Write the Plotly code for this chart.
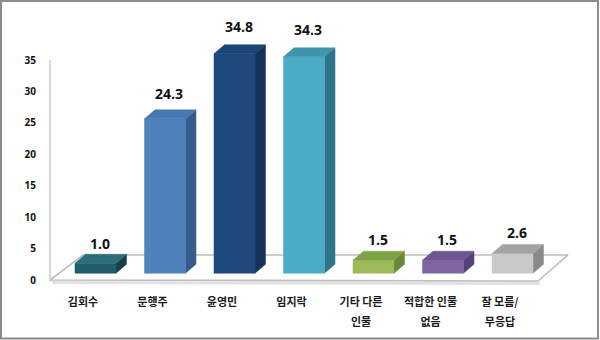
import plotly.graph_objects as go

categories = ["김회수", "문행주", "윤영민", "임지락", "기타 다른<br>인물", "적합한 인물<br>없음", "잘 모름/<br>무응답"]
values = [1.0, 24.3, 34.8, 34.3, 1.5, 1.5, 2.6]
value_labels = ["1.0", "24.3", "34.8", "34.3", "1.5", "1.5", "2.6"]
y_ticks = [0, 5, 10, 15, 20, 25, 30, 35]

front_colors = ["#215C68", "#4F81BD", "#1F497D", "#4BACC6", "#9BBB59", "#8064A2", "#C9C9C9"]
top_colors = ["#2C6E7A", "#4877B3", "#1C4477", "#3F95AC", "#80A247", "#6D5590", "#A3A3A3"]
side_colors = ["#173F48", "#375C8B", "#15335A", "#2E7589", "#6A8837", "#56417A", "#8A8A8A"]

# layout geometry (pixels)
W, H = 600, 340
ML, MR, MT, MB = 50, 10, 10, 50
PW, PH = W - ML - MR, H - MT - MB
PX_PER_CAT = 69.5
X0 = -(83 - ML) / PX_PER_CAT
XR = [X0, X0 + PW / PX_PER_CAT]

# tick axis: 0 -> 280px, 35 -> 60px
ts = 220 / 35
y1_lo = -(MT + PH - 280) / ts
Y1R = [y1_lo, y1_lo + PH / ts]
# bar axis
bs = 6.2
y2_lo = -(MT + PH - 269.5) / bs
Y2R = [y2_lo, y2_lo + PH / bs]

OFF = 0.18          # front face centre offset from category centre
HW = 0.295          # half width of front face
DX = 10.5 / PX_PER_CAT
DY = 9 / bs
BASE = -0.6

fig = go.Figure()


def poly(xs, ys, color, lw=0.5, lc=None):
    fig.add_trace(go.Scatter(
        x=xs + [xs[0]], y=ys + [ys[0]], mode="lines", fill="toself",
        fillcolor=color, line=dict(color=lc or color, width=lw),
        xaxis="x", yaxis="y2", hoverinfo="skip", showlegend=False))


def py2(px):
    return (269.5 - px) / bs


def px2x(px):
    return (px - 83) / PX_PER_CAT


# floor shadow and floor
fig.add_trace(go.Scatter(x=[px2x(52), px2x(540)], y=[py2(282.5), py2(283.5)], mode="lines",
                         line=dict(color="#E2E2E2", width=3), xaxis="x", yaxis="y2",
                         hoverinfo="skip", showlegend=False))
fl_x = [X0, 0, px2x(568), px2x(538)]
fl_y = [py2(280), py2(255), py2(255), py2(281)]
fig.add_trace(go.Scatter(x=fl_x + [fl_x[0]], y=fl_y + [fl_y[0]], mode="lines", fill="toself",
                         fillcolor="white", line=dict(color="#BDBDBD", width=1.6),
                         xaxis="x", yaxis="y2", hoverinfo="skip", showlegend=False))

for i, v in enumerate(values):
    x0 = i + OFF - HW
    x1 = i + OFF + HW
    poly([x1, x1 + DX, x1 + DX, x1], [BASE, BASE + DY, v + DY, v], side_colors[i])
    poly([x0, x1, x1, x0], [BASE, BASE, v, v], front_colors[i])
    poly([x0, x1, x1 + DX, x0 + DX], [v, v, v + DY, v + DY], top_colors[i])
    fig.add_annotation(x=i + OFF + 0.06, y=v, xref="x", yref="y2", text=value_labels[i],
                       showarrow=False, yanchor="middle", yshift=20 + 0.2 * v,
                       font=dict(family="Open Sans", size=14, color="#111111", weight="bold"))

# dummy trace on y to show ticks
fig.add_trace(go.Scatter(x=[0], y=[0], mode="markers", marker=dict(opacity=0),
                         xaxis="x", yaxis="y", hoverinfo="skip", showlegend=False))

ticktext = ["<br>".join(f"<span style='font-size:11px'>{p}</span>" for p in c.split("<br>"))
            for c in categories]

fig.update_layout(
    width=W, height=H, margin=dict(l=ML, r=MR, t=MT, b=MB),
    paper_bgcolor="white", plot_bgcolor="white", showlegend=False,
    xaxis=dict(range=XR, tickvals=list(range(len(categories))), ticktext=ticktext,
               showgrid=False, zeroline=False, showline=False, ticks="",
               tickfont=dict(family="Noto Sans CJK KR", size=15, color="#1A1A1A", weight="bold")),
    yaxis=dict(range=Y1R, tickvals=y_ticks, showgrid=False, zeroline=False, showline=False,
               ticks="outside", ticklen=11, tickcolor="rgba(0,0,0,0)",
               tickfont=dict(family="Open Sans", size=10, color="#111111", weight="bold")),
    yaxis2=dict(range=Y2R, overlaying="y", visible=False),
)

# vertical axis line on the back wall
fig.add_shape(type="line", xref="paper", yref="y", x0=0, x1=0, y0=-0.2, y1=35,
              line=dict(color="#BFBFBF", width=1.2))
# outer frame
fig.add_shape(type="rect", xref="paper", yref="paper",
              x0=(1 - ML) / PW, x1=(598 - ML) / PW,
              y0=(MT + PH - 338.5) / PH, y1=(MT + PH - 1) / PH,
              line=dict(color="#8C8C8C", width=2), layer="above")

fig.write_html("out.html")
